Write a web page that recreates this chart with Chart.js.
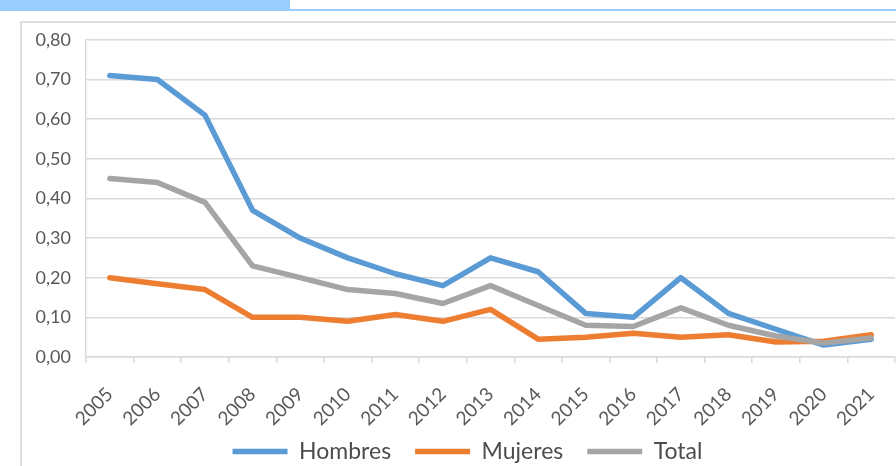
<!DOCTYPE html>
<html>
<head>
<meta charset="utf-8">
<script src="https://cdn.jsdelivr.net/npm/chart.js@4.4.1/dist/chart.umd.min.js"></script>
<style>
  html, body { margin: 0; padding: 0; background: #fff; width: 896px; height: 466px; overflow: hidden; position: relative; }
  #band { position: absolute; left: 0; top: 0; width: 290px; height: 9px; background: #99ccff; }
  #rule { position: absolute; left: 0; top: 9px; width: 896px; height: 2px; background: #99ccff; }
  #frame { position: absolute; left: 20px; top: 21px; width: 900px; height: 460px; border-left: 2px solid #dedede; border-top: 2px solid #dedede; }
  #wrap { position: absolute; left: 0; top: 14px; width: 922px; height: 480px; }
</style>
</head>
<body>
<div id="band"></div>
<div id="rule"></div>
<div id="frame"></div>
<div id="wrap"><canvas id="lineChart"></canvas></div>
<script>
const years = ["2005", "2006", "2007", "2008", "2009", "2010", "2011", "2012", "2013",
  "2014", "2015", "2016", "2017", "2018", "2019", "2020", "2021"];
const hombres = [0.71, 0.70, 0.61, 0.37, 0.30, 0.25, 0.21, 0.18, 0.25, 0.215, 0.11, 0.10, 0.20, 0.11, 0.07, 0.03, 0.045];
const mujeres = [0.20, 0.185, 0.17, 0.10, 0.10, 0.09, 0.107, 0.09, 0.12, 0.045, 0.05, 0.06, 0.05, 0.056, 0.038, 0.04, 0.056];
const total = [0.45, 0.44, 0.39, 0.23, 0.20, 0.17, 0.16, 0.135, 0.18, 0.13, 0.08, 0.077, 0.124, 0.08, 0.053, 0.035, 0.048];

const axisColor = "#d9d9d9";
const textColor = "#595959";

function line(label, data, color, order) {
  return {
    label: label,
    data: data,
    borderColor: color,
    backgroundColor: color,
    borderWidth: 5.5,
    borderCapStyle: "round",
    borderJoinStyle: "round",
    pointRadius: 0,
    pointHoverRadius: 0,
    tension: 0,
    fill: false,
    order: order,
  };
}

// move the legend a little right and up so it sits where the original has it
const legendShift = {
  id: "legendShift",
  afterLayout(chart) {
    const lg = chart.legend;
    lg.left += 9;
    lg.right += 9;
    lg.top -= 17;
    lg.bottom -= 17;
  },
};

const ctx = document.getElementById("lineChart").getContext("2d");
new Chart(ctx, {
  type: "line",
  data: {
    labels: years,
    datasets: [
      line("Hombres", hombres, "#5b9bd5", 2),
      line("Mujeres", mujeres, "#ed7d31", 1),
      line("Total", total, "#a5a5a5", 0),
    ],
  },
  options: {
    responsive: true,
    maintainAspectRatio: false,
    animation: false,
    layout: { padding: { left: 22, top: 0, right: 27, bottom: 4 } },
    plugins: {
      tooltip: { enabled: false },
      legend: {
        position: "bottom",
        labels: {
          usePointStyle: true,
          pointStyle: "line",
          pointStyleWidth: 55,
          padding: 24,
          color: "#4d4d4d",
          font: { family: "Lato", size: 23 },
          sort: (a, b) => a.datasetIndex - b.datasetIndex,
        },
      },
    },
    scales: {
      x: {
        offset: true,
        grid: { offset: true, drawOnChartArea: false, drawTicks: true, tickLength: 6, color: axisColor, lineWidth: 1.5 },
        border: { color: axisColor, width: 1.5 },
        ticks: {
          minRotation: 45,
          maxRotation: 45,
          padding: 20,
          color: textColor,
          font: { family: "Lato", size: 19 },
        },
        afterFit: (scale) => { scale.height = 76; },
      },
      y: {
        min: 0,
        max: 0.8,
        grid: { color: axisColor, lineWidth: 1.5, drawTicks: false },
        border: { display: true, color: axisColor, width: 1.5 },
        ticks: {
          stepSize: 0.1,
          padding: 15,
          color: textColor,
          font: { family: "Lato", size: 18 },
          callback: (v) => v.toFixed(2).replace(".", ","),
        },
        afterFit: (scale) => { scale.width = 64; },
      },
    },
  },
  plugins: [legendShift],
});
</script>
</body>
</html>
